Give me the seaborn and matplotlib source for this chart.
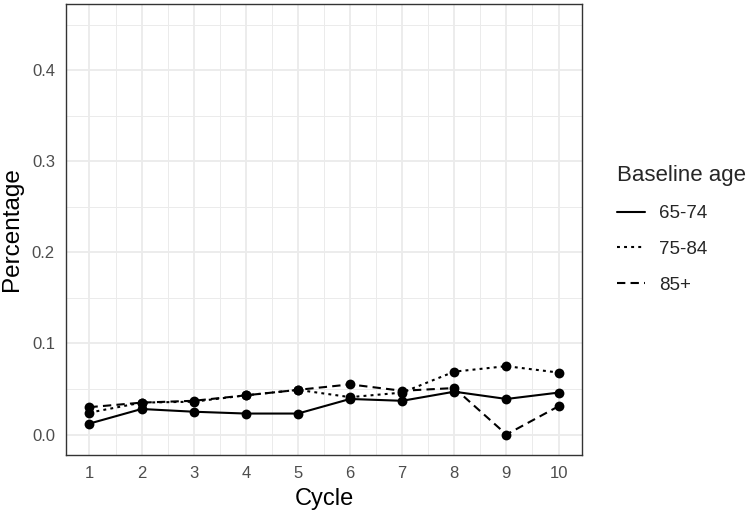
import numpy as np
import pandas as pd
import matplotlib
matplotlib.use("Agg")
import matplotlib.pyplot as plt
import seaborn as sns
from matplotlib.ticker import MultipleLocator

# Data
cycles = [1, 2, 3, 4, 5, 6, 7, 8, 9, 10]
age_groups = ["65-74", "75-84", "85+"]
pct_65_74 = [0.012, 0.028, 0.025, 0.023, 0.023, 0.039, 0.037, 0.047, 0.039, 0.046]
pct_75_84 = [0.024, 0.035, 0.036, 0.043, 0.049, 0.041, 0.046, 0.069, 0.075, 0.068]
pct_85_up = [0.030, 0.035, 0.037, 0.043, 0.049, 0.055, 0.048, 0.051, 0.000, 0.031]

data = pd.DataFrame({
    "Cycle": cycles * 3,
    "Percentage": pct_65_74 + pct_75_84 + pct_85_up,
    "Baseline age": [g for g in age_groups for _ in cycles],
})

sns.set_theme(style="white")
plt.rcParams["font.family"] = ["Liberation Sans", "DejaVu Sans"]

fig = plt.figure(figsize=(7.5, 5.15), dpi=100)
ax = fig.add_axes([0.088, 0.1165, 0.688, 0.8757])

dash_styles = {"65-74": "", "75-84": (1.4, 2.0), "85+": (4, 2.5)}
sns.lineplot(data=data, x="Cycle", y="Percentage", style="Baseline age",
             style_order=age_groups, dashes=dash_styles, color="black",
             linewidth=1.5, ax=ax)
sns.scatterplot(data=data, x="Cycle", y="Percentage", color="black",
                s=50, linewidth=0, legend=False, ax=ax, zorder=3)

# theme_bw look
ax.set_xlim(1 - 0.45, 10 + 0.45)
ax.set_ylim(-0.0225, 0.4725)
ax.xaxis.set_major_locator(MultipleLocator(1))
ax.xaxis.set_minor_locator(MultipleLocator(0.5))
ax.yaxis.set_major_locator(MultipleLocator(0.1))
ax.yaxis.set_minor_locator(MultipleLocator(0.05))
ax.set_yticks([0, 0.1, 0.2, 0.3, 0.4])
ax.set_yticklabels(["0.0", "0.1", "0.2", "0.3", "0.4"])
ax.grid(True, which="major", color="#EBEBEB", linewidth=1.3)
ax.grid(True, which="minor", color="#EBEBEB", linewidth=0.7)
ax.set_axisbelow(True)
for s in ax.spines.values():
    s.set_color("#333333")
    s.set_linewidth(1.0)
ax.tick_params(which="major", direction="out", length=5, width=1,
               color="#333333", labelsize=12, labelcolor="#4D4D4D", pad=3)
ax.tick_params(which="minor", length=0)
ax.set_xlabel("Cycle", fontsize=17, color="black", labelpad=5)
ax.set_ylabel("Percentage", fontsize=17.5, color="black", labelpad=6)

leg = ax.legend(title="Baseline age", loc="center left",
                bbox_to_anchor=(1.035, 0.5), frameon=False, fontsize=13.5,
                title_fontsize=16, handlelength=1.5, handletextpad=0.75,
                labelspacing=1.0, alignment="left")

fig.savefig("out.png", dpi=100)
